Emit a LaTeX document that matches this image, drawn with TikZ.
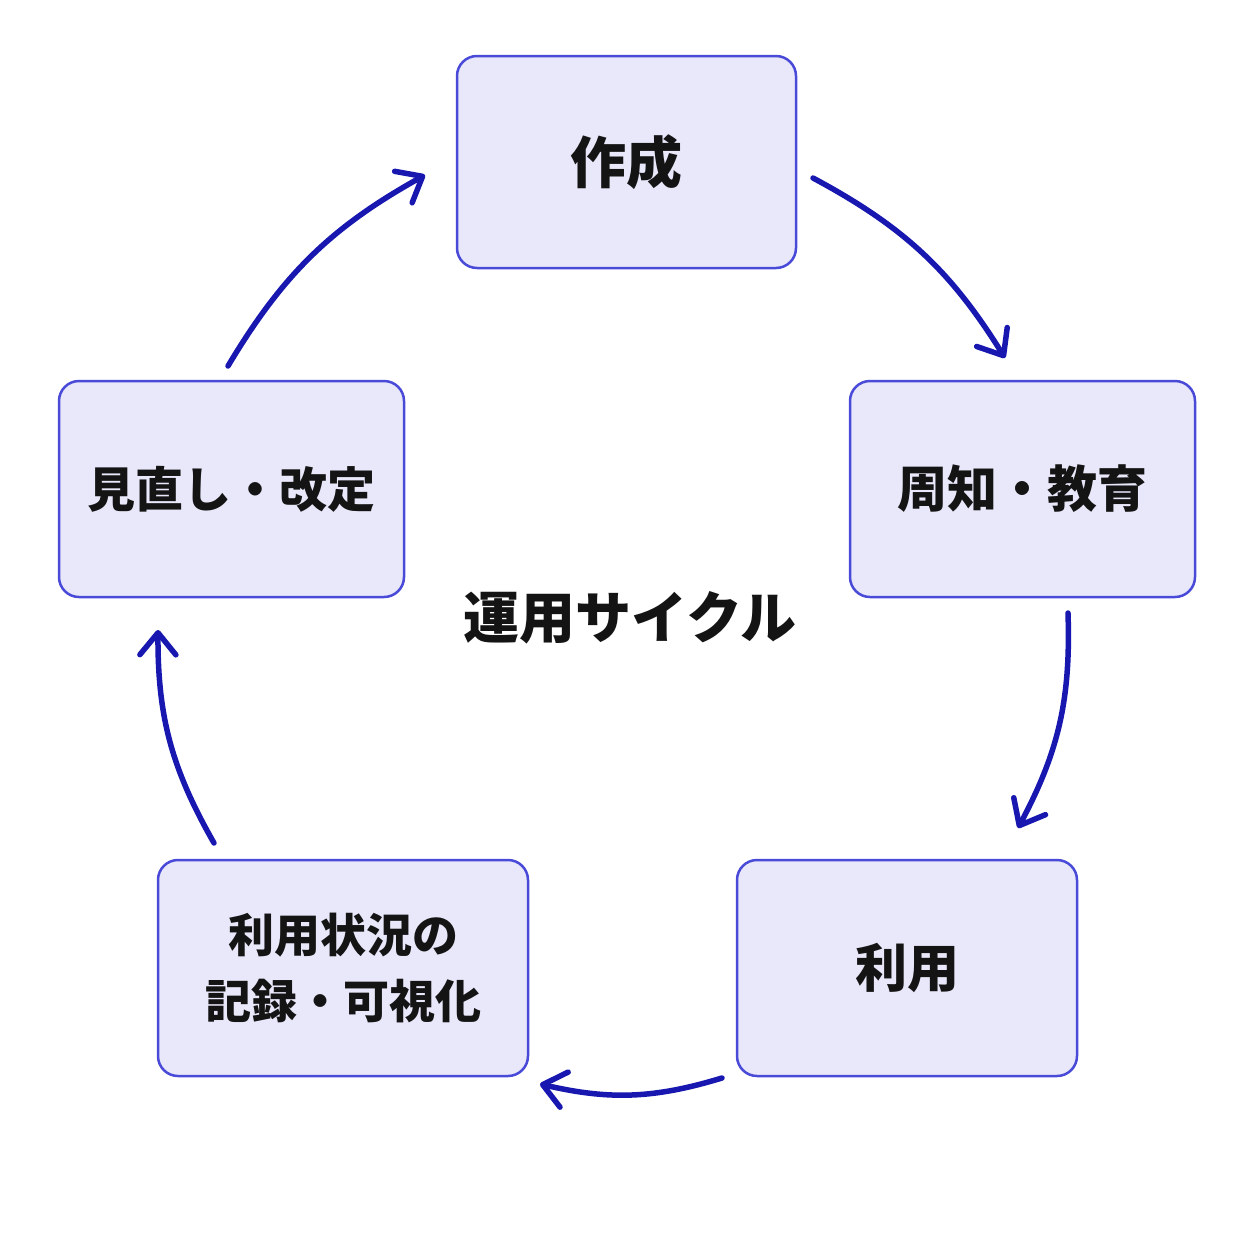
\documentclass[tikz,border=0pt]{standalone}
\usepackage{fontspec}
\newfontfamily\jp{Noto Sans CJK JP}
\usetikzlibrary{arrows.meta}
\definecolor{boxfill}{HTML}{E8E8FA}
\definecolor{boxline}{HTML}{4A4AD8}
\definecolor{arrowc}{HTML}{1818B0}
\definecolor{txt}{HTML}{141414}
\tikzset{
  stage/.style={draw=boxline, fill=boxfill, line width=2.5pt, rounded corners=20pt, align=center, text=txt},
  cyc/.style={draw=arrowc, line width=5.5pt, line cap=round, -{Straight Barb[length=22pt,width=36pt,line cap=round,line join=round]}, bend left=15}
}
\begin{document}
\begin{tikzpicture}[x=1pt,y=-1pt]
\useasboundingbox (0,0) rectangle (1254,1254);
\fill[white] (0,0) rectangle (1254,1254);
\node[stage, minimum width=339pt, minimum height=212pt, font=\jp\bfseries\fontsize{56}{62}\selectfont] (make) at (626.5,162) {作成};
\node[stage, minimum width=345pt, minimum height=216pt, font=\jp\bfseries\fontsize{50}{56}\selectfont] (edu) at (1022.5,489) {周知・教育};
\node[stage, minimum width=340pt, minimum height=216pt, font=\jp\bfseries\fontsize{52}{58}\selectfont] (use) at (907,968) {利用};
\node[stage, minimum width=370pt, minimum height=216pt, font=\jp\bfseries\fontsize{46}{66}\selectfont] (rec) at (343,968) {利用状況の\\記録・可視化};
\node[stage, minimum width=345pt, minimum height=216pt, font=\jp\bfseries\fontsize{48}{54}\selectfont] (rev) at (231.5,489) {見直し・改定};
\node[text=txt, font=\jp\bfseries\fontsize{56}{62}\selectfont] (title) at (630,618) {運用サイクル};
\coordinate (a1s) at (813,178); \coordinate (a1e) at (1005,358);
\coordinate (a2s) at (1068,613); \coordinate (a2e) at (1018,828);
\coordinate (a3s) at (722,1078); \coordinate (a3e) at (540,1084);
\coordinate (a4s) at (214,843); \coordinate (a4e) at (158,630);
\coordinate (a5s) at (228,366); \coordinate (a5e) at (425,175);
\draw[cyc] (a1s) to (a1e);
\draw[cyc] (a2s) to (a2e);
\draw[cyc] (a3s) to (a3e);
\draw[cyc] (a4s) to (a4e);
\draw[cyc] (a5s) to (a5e);
\end{tikzpicture}
\end{document}
